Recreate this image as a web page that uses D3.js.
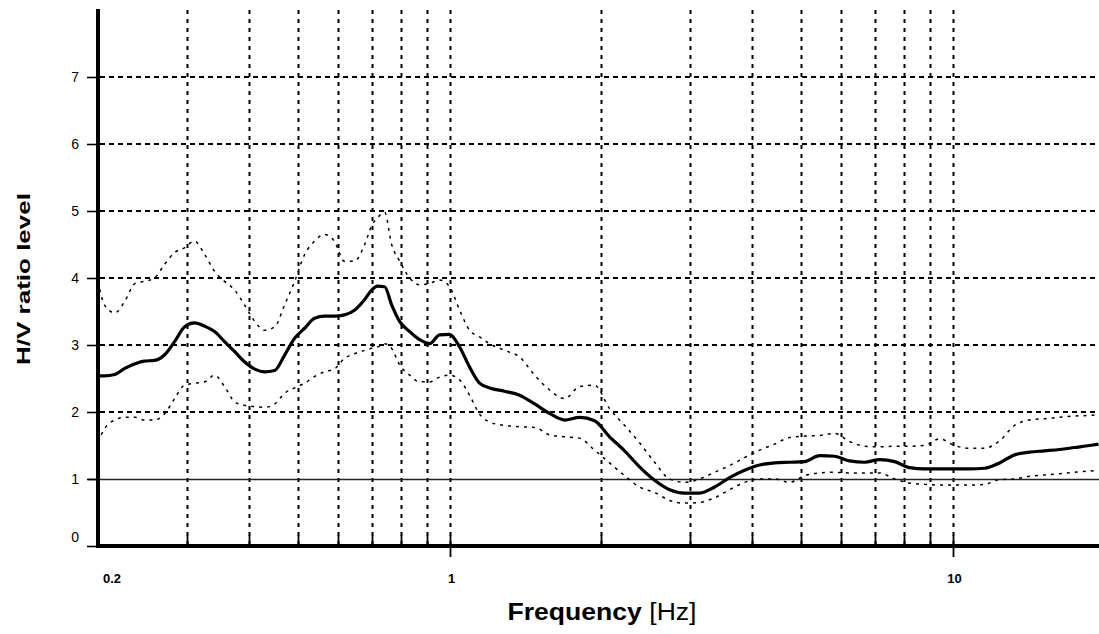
<!DOCTYPE html>
<html>
<head>
<meta charset="utf-8">
<script src="https://cdn.jsdelivr.net/npm/d3@7"></script>
<style>
  html, body { margin: 0; padding: 0; background: #fff; }
  svg { display: block; }
</style>
</head>
<body>
<svg id="chart" width="1099" height="634"></svg>
<script>
// ---- data ----
const freqs = [0.2, 0.206, 0.216, 0.226, 0.237, 0.247, 0.259, 0.271, 0.284, 0.297,
  0.311, 0.326, 0.341, 0.357, 0.374, 0.391, 0.41, 0.429, 0.449, 0.47,
  0.492, 0.515, 0.539, 0.564, 0.59, 0.618, 0.647, 0.678, 0.7, 0.719,
  0.743, 0.767, 0.796, 0.833, 0.872, 0.913, 0.955, 1.0, 1.047, 1.096,
  1.147, 1.201, 1.286, 1.378, 1.476, 1.58, 1.693, 1.813, 1.942, 2.08,
  2.228, 2.386, 2.556, 2.737, 2.932, 3.141, 3.364, 3.603, 3.859, 4.133,
  4.427, 4.742, 5.079, 5.44, 5.827, 6.24, 6.684, 7.16, 7.669, 8.214,
  8.798, 9.42, 10.09, 10.81, 11.58, 12.4, 13.28, 14.22, 15.24, 16.32,
  17.48, 18.73, 19.51];

const hvMean = [2.54, 2.54, 2.56, 2.65, 2.72, 2.76, 2.77, 2.85, 3.05, 3.27,
  3.33, 3.28, 3.2, 3.05, 2.9, 2.75, 2.64, 2.6, 2.62, 2.85,
  3.1, 3.25, 3.4, 3.43, 3.43, 3.45, 3.52, 3.68, 3.82, 3.88,
  3.87, 3.6, 3.35, 3.2, 3.08, 3.02, 3.15, 3.16, 2.97, 2.67,
  2.43, 2.36, 2.31, 2.25, 2.12, 1.98, 1.88, 1.92, 1.87, 1.63,
  1.42, 1.18, 0.98, 0.84, 0.79, 0.79, 0.88, 1.02, 1.13, 1.21,
  1.24, 1.25, 1.26, 1.35, 1.34, 1.27, 1.25, 1.29, 1.26, 1.17,
  1.15, 1.15, 1.15, 1.15, 1.16, 1.24, 1.36, 1.4, 1.42, 1.44,
  1.47, 1.5, 1.52];

const hvUpper = [3.95, 3.6, 3.48, 3.65, 3.92, 3.95, 4.0, 4.2, 4.38, 4.45,
  4.55, 4.35, 4.1, 3.95, 3.82, 3.6, 3.35, 3.22, 3.27, 3.6,
  3.95, 4.35, 4.55, 4.65, 4.55, 4.25, 4.25, 4.5, 4.78, 4.9,
  4.98, 4.5, 4.25, 4.0, 3.9, 3.92, 3.97, 3.87, 3.52, 3.22,
  3.12, 3.02, 2.92, 2.82, 2.55, 2.33, 2.2, 2.38, 2.4, 2.05,
  1.8, 1.54, 1.25, 1.0, 0.95, 1.0, 1.1, 1.2, 1.32, 1.43,
  1.52, 1.62, 1.64, 1.65, 1.68, 1.56, 1.49, 1.48, 1.49, 1.49,
  1.5, 1.6, 1.5, 1.46, 1.46, 1.57, 1.8, 1.88, 1.9, 1.92,
  1.94, 1.95, 1.96];

const hvLower = [1.55, 1.75, 1.88, 1.92, 1.92, 1.88, 1.88, 1.97, 2.2, 2.4,
  2.43, 2.45, 2.55, 2.38, 2.15, 2.1, 2.08, 2.07, 2.12, 2.28,
  2.36, 2.43, 2.53, 2.6, 2.64, 2.8, 2.87, 2.92, 2.95, 2.97,
  3.02, 2.95, 2.7, 2.55, 2.45, 2.45, 2.52, 2.55, 2.48, 2.25,
  1.97, 1.85, 1.8, 1.78, 1.77, 1.66, 1.63, 1.61, 1.43, 1.24,
  1.05, 0.88, 0.8, 0.68, 0.64, 0.65, 0.72, 0.84, 0.95, 1.0,
  1.0, 0.95, 1.05, 1.09, 1.1, 1.09, 1.09, 1.09, 1.0, 0.94,
  0.92, 0.91, 0.91, 0.91, 0.92, 0.99, 1.0, 1.04, 1.06, 1.08,
  1.1, 1.12, 1.13];

const xGridValues = [0.3, 0.4, 0.5, 0.6, 0.7, 0.8, 0.9, 1, 2, 3, 4, 5, 6, 7, 8, 9, 10];
const xTickLabels = [{v: 0.2, t: "0.2"}, {v: 1, t: "1"}, {v: 10, t: "10"}];
const yGridValues = [2, 3, 4, 5, 6, 7];
const yTickValues = [0, 1, 2, 3, 4, 5, 6, 7];

// ---- layout ----
const svg = d3.select("#chart");
const W = 1099, H = 634;
const x = d3.scaleLog().domain([0.2, 20]).range([98, 1104]);
const y = d3.scaleLinear().domain([0, 8]).range([546, 10]);
const right = W;

svg.append("defs").append("clipPath").attr("id", "plotclip")
  .append("rect").attr("x", 98).attr("y", 0).attr("width", right - 98).attr("height", 546);

// vertical dashed gridlines
svg.append("g").selectAll("line").data(xGridValues).join("line")
  .attr("x1", d => Math.round(x(d)) + 0.5).attr("x2", d => Math.round(x(d)) + 0.5)
  .attr("y1", y(8)).attr("y2", y(0))
  .attr("stroke", "#000").attr("stroke-width", 2)
  .attr("stroke-dasharray", "4,5");

// horizontal dashed gridlines
svg.append("g").selectAll("line").data(yGridValues).join("line")
  .attr("x1", 100).attr("x2", right)
  .attr("y1", d => Math.round(y(d))).attr("y2", d => Math.round(y(d)))
  .attr("stroke", "#000").attr("stroke-width", 2)
  .attr("stroke-dasharray", "5,4");

// H/V = 1 reference line (solid thin)
svg.append("line")
  .attr("x1", 88).attr("x2", right)
  .attr("y1", Math.round(y(1)) + 0.5).attr("y2", Math.round(y(1)) + 0.5)
  .attr("stroke", "#222").attr("stroke-width", 1.6);

// curves
const line = (vals) => d3.line()
  .x((d, i) => x(freqs[i]))
  .y(d => y(d))
  .curve(d3.curveMonotoneX)(vals);

const g = svg.append("g").attr("clip-path", "url(#plotclip)");
g.append("path").attr("d", line(hvUpper))
  .attr("fill", "none").attr("stroke", "#000").attr("stroke-width", 1.5)
  .attr("stroke-dasharray", "3,5");
g.append("path").attr("d", line(hvLower))
  .attr("fill", "none").attr("stroke", "#000").attr("stroke-width", 1.5)
  .attr("stroke-dasharray", "3,5");
g.append("path").attr("d", line(hvMean))
  .attr("fill", "none").attr("stroke", "#000").attr("stroke-width", 3.2)
  .attr("stroke-linejoin", "round");

// y ticks
svg.append("g").selectAll("line").data(yTickValues).join("line")
  .attr("x1", 87).attr("x2", 98)
  .attr("y1", d => Math.round(y(d)) + 0.5).attr("y2", d => Math.round(y(d)) + 0.5)
  .attr("stroke", "#000").attr("stroke-width", 1.6);

// x ticks: minor at gridlines, major below
svg.append("g").selectAll("line").data(xGridValues).join("line")
  .attr("x1", d => Math.round(x(d)) + 0.5).attr("x2", d => Math.round(x(d)) + 0.5)
  .attr("y1", 535).attr("y2", d => (d === 1 || d === 10) ? 557 : 546)
  .attr("stroke", "#000").attr("stroke-width", 1.8);

// axes (thick)
svg.append("line").attr("x1", 98).attr("x2", 98).attr("y1", 9).attr("y2", 548)
  .attr("stroke", "#000").attr("stroke-width", 4);
svg.append("line").attr("x1", 96).attr("x2", right).attr("y1", 546).attr("y2", 546)
  .attr("stroke", "#000").attr("stroke-width", 4);

// y tick labels
svg.append("g").selectAll("text").data(yTickValues).join("text")
  .attr("x", 79)
  .attr("y", d => y(d) + (d === 0 ? -9 : 0))
  .attr("text-anchor", "end")
  .attr("dominant-baseline", "central")
  .attr("font-family", "Liberation Sans, Arial, sans-serif")
  .attr("font-size", 14)
  .attr("fill", "#000")
  .text(d => d);

// x tick labels
svg.append("g").selectAll("text").data(xTickLabels).join("text")
  .attr("x", d => x(d.v) + (d.v === 0.2 ? 14 : 2))
  .attr("y", 583)
  .attr("text-anchor", "middle")
  .attr("font-family", "Liberation Sans, Arial, sans-serif")
  .attr("font-size", 13)
  .attr("font-weight", "bold")
  .attr("fill", "#000")
  .text(d => d.t);

// axis titles
const xt = svg.append("text")
  .attr("x", 602).attr("y", 620)
  .attr("text-anchor", "middle")
  .attr("font-family", "Liberation Sans, Arial, sans-serif")
  .attr("font-size", 23)
  .attr("fill", "#000")
  .attr("textLength", 189).attr("lengthAdjust", "spacingAndGlyphs");
xt.append("tspan").attr("font-weight", "bold").text("Frequency ");
xt.append("tspan").text("[Hz]");

svg.append("text")
  .attr("transform", "translate(30,279) rotate(-90)")
  .attr("text-anchor", "middle")
  .attr("font-family", "Liberation Sans, Arial, sans-serif")
  .attr("font-size", 19)
  .attr("font-weight", "bold")
  .attr("fill", "#000")
  .attr("textLength", 172).attr("lengthAdjust", "spacingAndGlyphs")
  .text("H/V ratio level");
</script>
</body>
</html>
